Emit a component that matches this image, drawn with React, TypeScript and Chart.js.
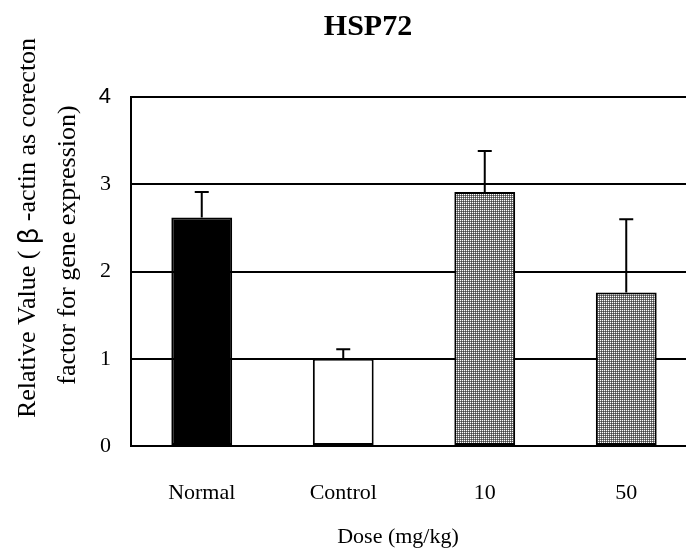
import React, { useEffect, useRef } from "react";
import { Chart, registerables } from "chart.js";

Chart.register(...registerables);

const categories = ["Normal", "Control", "10", "50"];
const values = [2.62, 1.0, 2.91, 1.76];
const errors = [0.29, 0.11, 0.47, 0.84];
const yTicks = [0, 1, 2, 3, 4];
const titleText = "HSP72";
const xTitle = "Dose (mg/kg)";
const yTitle1 = ["Relative Value ( ", "\u03B2", " -actin as corecton"];
const yTitle2 = "factor for gene expression)";

const SERIF = "'Liberation Serif', 'Times New Roman', serif";

function makePattern(): CanvasPattern | string {
  const c = document.createElement("canvas");
  c.width = 2;
  c.height = 2;
  const ctx = c.getContext("2d");
  if (!ctx) return "#8c8c8c";
  ctx.fillStyle = "#777777";
  ctx.fillRect(0, 0, 2, 2);
  ctx.fillStyle = "#ffffff";
  ctx.fillRect(0, 0, 1, 1);
  ctx.fillStyle = "#444444";
  ctx.fillRect(1, 1, 1, 1);
  const p = ctx.createPattern(c, "repeat");
  return p || "#8c8c8c";
}

const errorBarPlugin = {
  id: "errorBars",
  afterDatasetsDraw(chart: any) {
    const ctx = chart.ctx;
    const meta = chart.getDatasetMeta(0);
    const y = chart.scales.y;
    ctx.save();
    ctx.strokeStyle = "#000";
    ctx.lineWidth = 2;
    meta.data.forEach((bar: any, i: number) => {
      const top = y.getPixelForValue(values[i] + errors[i]);
      const base = y.getPixelForValue(values[i]);
      ctx.beginPath();
      ctx.moveTo(bar.x, base);
      ctx.lineTo(bar.x, top);
      ctx.moveTo(bar.x - 7, top);
      ctx.lineTo(bar.x + 7, top);
      ctx.stroke();
    });
    ctx.restore();
  },
};

const titlePlugin = {
  id: "customTitles",
  afterDraw(chart: any) {
    const ctx = chart.ctx;
    ctx.save();
    ctx.fillStyle = "#000";
    ctx.textBaseline = "middle";
    // main title
    ctx.font = `bold 30px ${SERIF}`;
    ctx.textAlign = "center";
    ctx.fillText(titleText, 368, 27);
    // x title
    ctx.font = `22px ${SERIF}`;
    ctx.fillText(xTitle, 398, 537);
    // y title, line 1 (segments, beta in a CJK font)
    const fonts = [`26px ${SERIF}`, `26px 'Noto Sans CJK JP', sans-serif`, `26px ${SERIF}`];
    let total = 0;
    const widths = yTitle1.map((s, i) => {
      ctx.font = fonts[i];
      const w = ctx.measureText(s).width;
      total += w;
      return w;
    });
    ctx.save();
    ctx.translate(28, 228);
    ctx.rotate(-Math.PI / 2);
    ctx.textAlign = "left";
    let pos = -total / 2;
    yTitle1.forEach((s, i) => {
      ctx.font = fonts[i];
      ctx.fillText(s, pos, 0);
      pos += widths[i];
    });
    ctx.restore();
    // y title, line 2
    ctx.save();
    ctx.translate(68, 245);
    ctx.rotate(-Math.PI / 2);
    ctx.textAlign = "center";
    ctx.font = `26px ${SERIF}`;
    ctx.fillText(yTitle2, 0, 0);
    ctx.restore();
    ctx.restore();
  },
};

export default function App() {
  const ref = useRef<HTMLCanvasElement>(null);
  useEffect(() => {
    if (!ref.current) return;
    const pattern = makePattern();
    const chart = new Chart(ref.current, {
      type: "bar",
      data: {
        labels: categories,
        datasets: [
          {
            data: values,
            backgroundColor: ["#000000", "#ffffff", pattern, pattern] as any,
            borderColor: "#000",
            borderWidth: 2,
            borderSkipped: false,
            barPercentage: 0.43,
            categoryPercentage: 1,
          },
        ],
      },
      options: {
        animation: false,
        responsive: false,
        maintainAspectRatio: false,
        layout: { padding: { top: 97, right: 2, left: 0, bottom: 0 } },
        plugins: {
          legend: { display: false },
          tooltip: { enabled: false },
          title: { display: false },
        },
        scales: {
          x: {
            grid: { display: false },
            border: { display: true, color: "#000", width: 2 },
            ticks: {
              color: "#000",
              padding: 26,
              font: { family: SERIF, size: 22 },
            },
            afterFit(scale: any) {
              scale.height = 103;
            },
          },
          y: {
            min: 0,
            max: 4,
            afterBuildTicks(scale: any) {
              scale.ticks = yTicks.map((v) => ({ value: v }));
            },
            grid: {
              color: "#000",
              lineWidth: 2,
              drawTicks: false,
            },
            border: { display: true, color: "#000", width: 2 },
            ticks: {
              color: "#000",
              padding: 20,
              font: (ctx: any) => ({
                family:
                  ctx.tick && ctx.tick.value === 4
                    ? "'Liberation Sans', Arial, sans-serif"
                    : SERIF,
                size: 22,
              }),
            },
            afterFit(scale: any) {
              scale.width = 131;
            },
          },
        },
      },
      plugins: [errorBarPlugin, titlePlugin],
    });
    return () => chart.destroy();
  }, []);
  return (
    <div style={{ position: "fixed", left: 0, top: 0, width: 699, height: 549, background: "#fff" }}>
      <canvas ref={ref} width={699} height={549} style={{ display: "block" }} />
    </div>
  );
}
